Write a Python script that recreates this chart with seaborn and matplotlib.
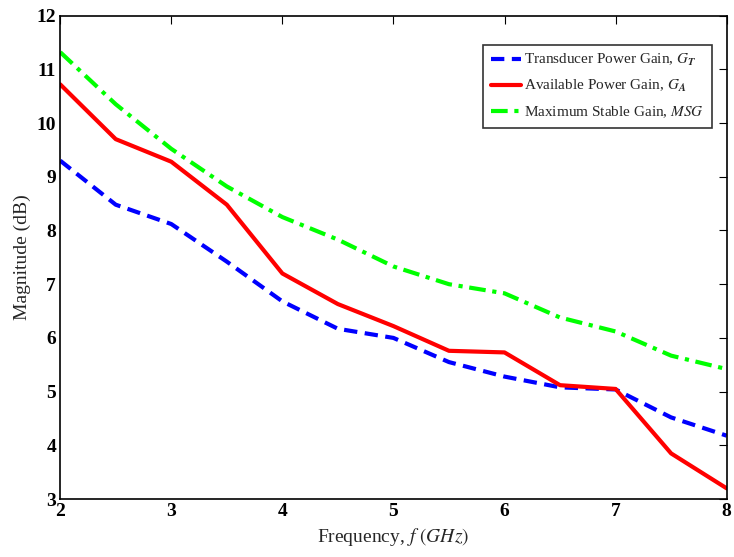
import matplotlib
matplotlib.use("Agg")
import matplotlib.pyplot as plt
import seaborn as sns
import pandas as pd

freq = [2, 2.5, 3, 3.5, 4, 4.5, 5, 5.5, 6, 6.5, 7, 7.5, 8]
gt = [9.3, 8.48, 8.12, 7.42, 6.68, 6.17, 6.0, 5.55, 5.28, 5.08, 5.04, 4.52, 4.18]
ga = [10.72, 9.7, 9.28, 8.48, 7.2, 6.63, 6.22, 5.76, 5.73, 5.12, 5.05, 3.85, 3.2]
msg = [11.32, 10.35, 9.52, 8.82, 8.25, 7.83, 7.33, 7.0, 6.83, 6.38, 6.12, 5.67, 5.42]
labels = ["Transducer Power Gain, $G_{\\boldsymbol{T}}$",
          "Available Power Gain, $G_{\\boldsymbol{A}}$",
          "Maximum Stable Gain, $\\mathit{MSG}$"]

sns.set_style("white")
plt.rcParams['font.family'] = ['Liberation Serif', 'DejaVu Serif']
plt.rcParams['mathtext.fontset'] = 'stix'

fig, ax = plt.subplots(figsize=(7.34, 5.57), dpi=100)
fig.subplots_adjust(left=0.082, right=0.99, top=0.972, bottom=0.104)

styles = [("#0000ff", (0, (3.2, 1.8))), ("#ff0000", "-"), ("#00ff00", (0, (4, 1.6, 1, 1.6)))]
for vals, lab, (c, ls) in zip([gt, ga, msg], labels, styles):
    df = pd.DataFrame({"f": freq, "v": vals})
    sns.lineplot(data=df, x="f", y="v", ax=ax, color=c, linewidth=3, label=lab)
    ax.lines[-1].set_linestyle(ls)

ax.set_xlim(2, 8)
ax.set_ylim(3, 12)
ax.set_xticks(range(2, 9))
ax.set_yticks(range(3, 13))
ax.tick_params(direction="in", top=True, right=True, length=6, width=0.8,
               labelsize=14, colors="black", pad=3)
for t in ax.get_xticklabels() + ax.get_yticklabels():
    t.set_fontweight("bold")
for s in ax.spines.values():
    s.set_color("black")
    s.set_linewidth(1.2)
ax.set_xlabel("Frequency, $f$ $\\mathit{(GHz)}$", fontsize=14)
ax.set_ylabel("Magnitude (dB)", fontsize=14)
leg = ax.legend(loc="upper right", bbox_to_anchor=(0.978, 0.94), fontsize=11,
                frameon=True, fancybox=False, edgecolor="black", handlelength=2.0,
                handletextpad=0.2, borderpad=0.5, labelspacing=0.65, borderaxespad=0)
leg.get_frame().set_linewidth(1.2)
fig.savefig("out.png", dpi=100)
